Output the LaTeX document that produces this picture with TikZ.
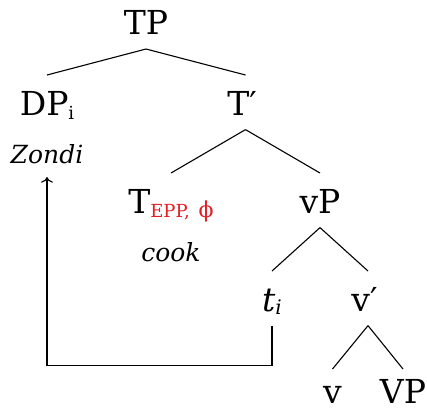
\documentclass[tikz,border=0pt]{standalone}
\usepackage{fontspec}
\setmainfont{DejaVu Serif}
\usetikzlibrary{positioning,arrows.meta}

\definecolor{featred}{RGB}{230,30,35}
\newcommand{\featsub}[1]{\raisebox{-1.8pt}{\fontsize{9}{10}\selectfont #1}}

\begin{document}
\begin{tikzpicture}[x=0.5pt, y=-0.5pt, >=To, line width=0.55pt,
    cat/.style={inner sep=0pt, text height=20pt, text depth=6.75pt, font=\fontsize{16.5}{18}\selectfont, anchor=north},
    gloss/.style={inner sep=0pt, font=\fontsize{12.5}{14}\selectfont\itshape}]
  \useasboundingbox (0,0) rectangle (427,409);

  \node[cat, anchor=south] (tp) at (146,49) {TP};
  \node[cat] (dp) at (47,75) {DP\featsub{i}};
  \node[cat] (tbar) at (245.5,75) {T′\kern3.5pt};
  \node[gloss, below=7pt of dp] (zondi) {Zondi};
  \node[cat] (tepp) at (171,173) {T\featsub{\color{featred}EPP,\enspace{\fontsize{11}{11}\selectfont ϕ}}};
  \node[gloss, below=7pt of tepp] (cook) {cook};
  \node[cat] (vp) at (320,173) {vP};
  \node[cat] (ti) at (272,271) {\itshape t\raisebox{-1.7pt}{\fontsize{10}{10}\selectfont i}};
  \node[cat] (vbar) at (368,271) {v′\kern3.5pt};
  \node[cat, text height=17pt, text depth=0pt] (vhead) at (332.5,369) {v};
  \node[cat, text height=17pt, text depth=0pt] (vpbot) at (403,369) {VP};

  \draw (tp.south) -- (dp.north);
  \draw (tp.south) -- (tbar.north);
  \draw (tbar.south) -- (tepp.north);
  \draw (tbar.south) -- (vp.north);
  \draw (vp.south) -- (ti.north);
  \draw (vp.south) -- (vbar.north);
  \draw (vbar.south) -- (vhead.north);
  \draw (vbar.south) -- (vpbot.north);

  % movement of the subject
  \draw[->, shorten >=6.5pt] (ti.south) -- ++(0,40) -| (zondi.south);
\end{tikzpicture}
\end{document}
